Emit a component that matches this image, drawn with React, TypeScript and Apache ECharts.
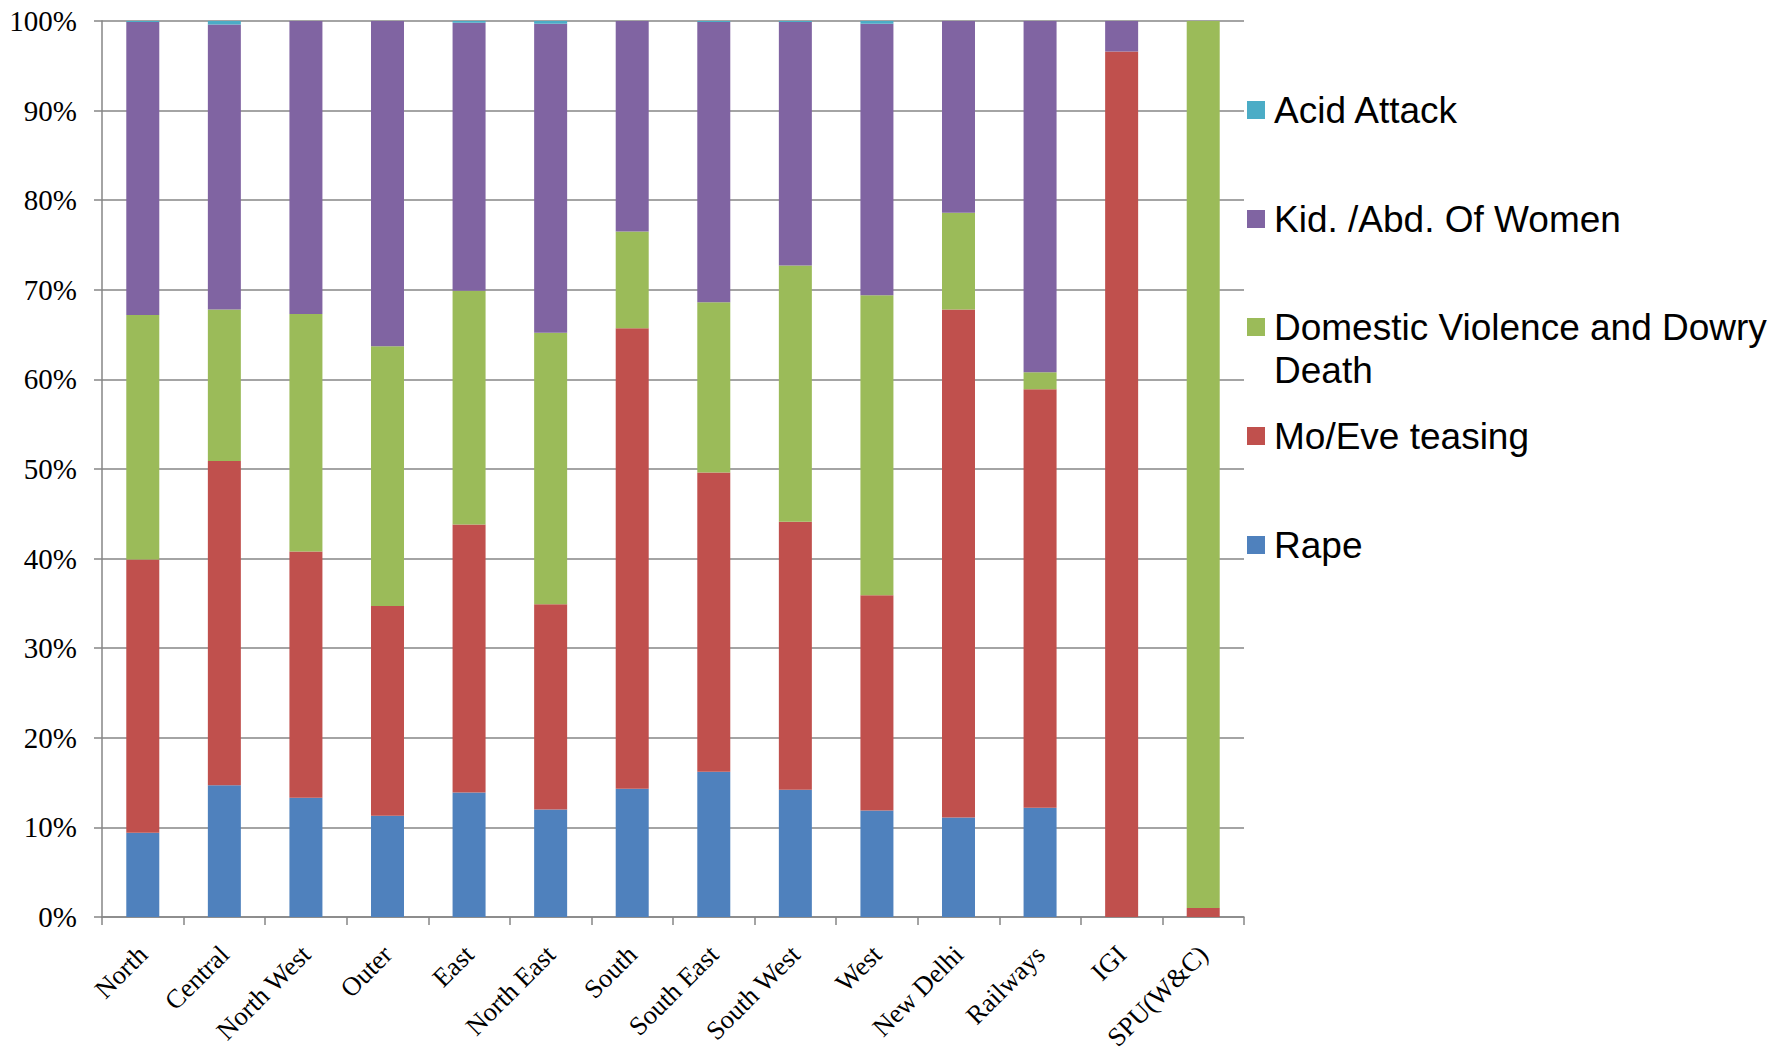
import React, { useEffect, useRef } from 'react';
import * as echarts from 'echarts';

const categories = ['North', 'Central', 'North West', 'Outer', 'East', 'North East', 'South', 'South East', 'South West', 'West', 'New Delhi', 'Railways', 'IGI', 'SPU(W&C)'];
const rape = [9.4, 14.7, 13.3, 11.3, 13.9, 12.0, 14.3, 16.2, 14.2, 11.9, 11.1, 12.2, 0, 0];
const moEve = [30.5, 36.2, 27.5, 23.4, 29.9, 22.9, 51.4, 33.4, 29.9, 24.0, 56.7, 46.7, 96.6, 1.0];
const domestic = [27.3, 16.9, 26.5, 29.0, 26.1, 30.3, 10.8, 19.0, 28.6, 33.5, 10.8, 1.9, 0, 99.0];
const kidnap = [32.7, 31.8, 32.7, 36.3, 29.9, 34.5, 23.5, 31.3, 27.2, 30.3, 21.4, 39.2, 3.4, 0];
const acid = [0.1, 0.4, 0, 0, 0.2, 0.3, 0, 0.1, 0.1, 0.3, 0, 0, 0, 0];

const seriesNames = ['Rape', 'Mo/Eve teasing', 'Domestic Violence and Dowry Death', 'Kid. /Abd. Of Women', 'Acid Attack'];
const seriesColors = ['#4F81BD', '#C0504D', '#9BBB59', '#8064A2', '#4BACC6'];
const seriesData = [rape, moEve, domestic, kidnap, acid];

// legend order top -> bottom and vertical centre of each item
const legendOrder = ['Acid Attack', 'Kid. /Abd. Of Women', 'Domestic Violence and Dowry Death', 'Mo/Eve teasing', 'Rape'];
const legendCenters = [110, 219, 327, 436, 545];

export default function App() {
  const ref = useRef<HTMLDivElement>(null);
  useEffect(() => {
    if (!ref.current) return;
    const chart = echarts.init(ref.current, null, { renderer: 'svg' });
    const LH = 43;
    const legends = legendOrder.map((name, i) => {
      const twoLine = name === 'Domestic Violence and Dowry Death';
      return {
        data: [name],
        orient: 'vertical',
        left: 1247,
        top: twoLine ? legendCenters[i] - (3 * LH) / 2 : legendCenters[i] - LH / 2,
        padding: 0,
        icon: 'rect',
        itemWidth: 18,
        itemHeight: 18,
        selectedMode: false,
        formatter: (n: string) => (n === 'Domestic Violence and Dowry Death' ? ' \nDomestic Violence and Dowry\nDeath' : n),
        textStyle: {
          fontFamily: 'Liberation Sans, Arial, sans-serif',
          fontSize: 37,
          color: '#000',
          lineHeight: LH,
          padding: [0, 0, 0, 4],
        },
      };
    });
    chart.setOption({
      animation: false,
      backgroundColor: '#fff',
      grid: { left: 102, top: 21, width: 1142, height: 896, containLabel: false, outerBoundsMode: 'none' },
      legend: legends,
      xAxis: {
        type: 'category',
        data: categories,
        axisLine: { lineStyle: { color: '#868686', width: 1.5 } },
        axisTick: { show: true, length: 8, alignWithLabel: false, lineStyle: { color: '#868686', width: 1.5 } },
        axisLabel: {
          rotate: 45,
          margin: 33,
          interval: 0,
          fontFamily: 'Liberation Serif, Times New Roman, serif',
          fontSize: 26.5,
          color: '#000',
        },
      },
      yAxis: {
        type: 'value',
        min: 0,
        max: 100,
        interval: 10,
        axisLine: { show: true, lineStyle: { color: '#868686', width: 1.5 } },
        axisTick: { show: true, length: 8, inside: false, lineStyle: { color: '#868686', width: 1.5 } },
        splitLine: { show: true, lineStyle: { color: '#868686', width: 1.5 } },
        axisLabel: {
          formatter: '{value}%',
          margin: 25,
          fontFamily: 'Liberation Serif, Times New Roman, serif',
          fontSize: 29,
          color: '#000',
        },
      },
      series: seriesNames.map((name, i) => ({
        name,
        type: 'bar',
        stack: 'total',
        barWidth: 33,
        data: seriesData[i],
        itemStyle: { color: seriesColors[i] },
      })),
    });
    return () => chart.dispose();
  }, []);
  return <div ref={ref} style={{ position: 'fixed', left: 0, top: 0, width: 1777, height: 1053 }} />;
}
